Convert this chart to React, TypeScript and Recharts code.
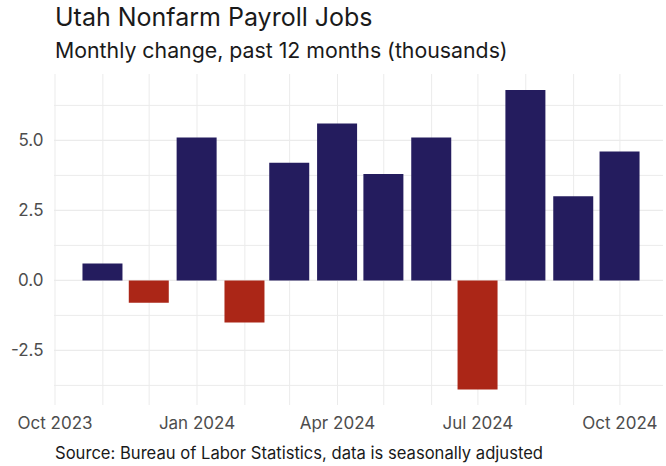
import { Bar, BarChart, CartesianGrid, Cell, XAxis, YAxis } from "recharts";

// monthly change in Utah nonfarm payroll jobs, thousands (Nov 2023 - Oct 2024)
const months = [
  "2023-11", "2023-12", "2024-01", "2024-02", "2024-03", "2024-04",
  "2024-05", "2024-06", "2024-07", "2024-08", "2024-09", "2024-10"
];
const changes = [0.6, -0.8, 5.1, -1.5, 4.2, 5.6, 3.8, 5.1, -3.9, 6.8, 3.0, 4.6];

const xTickMonths = ["2023-10", "2024-01", "2024-04", "2024-07", "2024-10"];
const xTickLabels = ["Oct 2023", "Jan 2024", "Apr 2024", "Jul 2024", "Oct 2024"];
const gridMonths = [
  "2023-10", "2023-11", "2023-12", "2024-01", "2024-02", "2024-03", "2024-04",
  "2024-05", "2024-06", "2024-07", "2024-08", "2024-09", "2024-10"
];
const yTicks = [-2.5, 0, 2.5, 5];
const yMinor = [-3.75, -1.25, 1.25, 3.75, 6.25];

const colors = {
  up: "#241c5e",
  down: "#ab2617",
  grid: "#ebebeb",
  axis: "#4d4d4d",
  ink: "#1a1a1a"
};

const DAY = 86400000;
const toTime = (m: string) => {
  const [y, mo] = m.split("-").map(Number);
  return Date.UTC(y, mo - 1, 1);
};

const data = months.map((m, i) => ({ date: toTime(m), change: changes[i] }));
const xTicks = xTickMonths.map(toTime);
const xDomain = [toTime("2023-10") - 0.65 * DAY, toTime("2024-10") + 27.9 * DAY];

const fontFamily = "Inter, 'Noto Sans', sans-serif";

export default function App() {
  return (
    <div style={{ position: "fixed", left: 0, top: 0, width: 666, height: 466, background: "#fff", fontFamily }}>
      <BarChart width={666} height={466} data={data} margin={{ top: 74, right: 3, bottom: 31, left: 8 }}>
        <CartesianGrid
          stroke={colors.grid}
          strokeWidth={1}
          horizontalValues={yMinor}
          verticalValues={gridMonths.map(toTime)}
        />
        <CartesianGrid stroke={colors.grid} strokeWidth={1.4} horizontalValues={yTicks} vertical={false} />
        <XAxis
          dataKey="date"
          type="number"
          domain={xDomain}
          allowDataOverflow
          ticks={xTicks}
          tickFormatter={(v: number) => xTickLabels[xTicks.indexOf(v)] ?? ""}
          axisLine={false}
          tickLine={false}
          tickSize={0}
          tickMargin={12}
          height={30}
          interval={0}
          tick={{ fontSize: 17, fill: colors.axis, fontFamily }}
        />
        <YAxis
          type="number"
          domain={[-4.45, 7.37]}
          allowDataOverflow
          ticks={yTicks}
          tickFormatter={(v: number) => v.toFixed(1)}
          axisLine={false}
          tickLine={false}
          tickSize={0}
          tickMargin={10.5}
          width={46}
          tick={{ fontSize: 17, fill: colors.axis, fontFamily }}
        />
        <Bar dataKey="change" barSize={40} isAnimationActive={false}>
          {data.map((d, i) => (
            <Cell key={i} fill={d.change >= 0 ? colors.up : colors.down} />
          ))}
        </Bar>
      </BarChart>
      <svg width={666} height={466} style={{ position: "absolute", left: 0, top: 0, pointerEvents: "none" }}>
        <text x={55} y={26} fontSize={25} fill={colors.ink} fontFamily={fontFamily}>
          Utah Nonfarm Payroll Jobs
        </text>
        <text x={55} y={58} fontSize={21.3} fill={colors.ink} fontFamily={fontFamily}>
          Monthly change, past 12 months (thousands)
        </text>
        <text x={55} y={459} fontSize={16.6} fill={colors.ink} fontFamily={fontFamily}>
          Source: Bureau of Labor Statistics, data is seasonally adjusted
        </text>
      </svg>
    </div>
  );
}
